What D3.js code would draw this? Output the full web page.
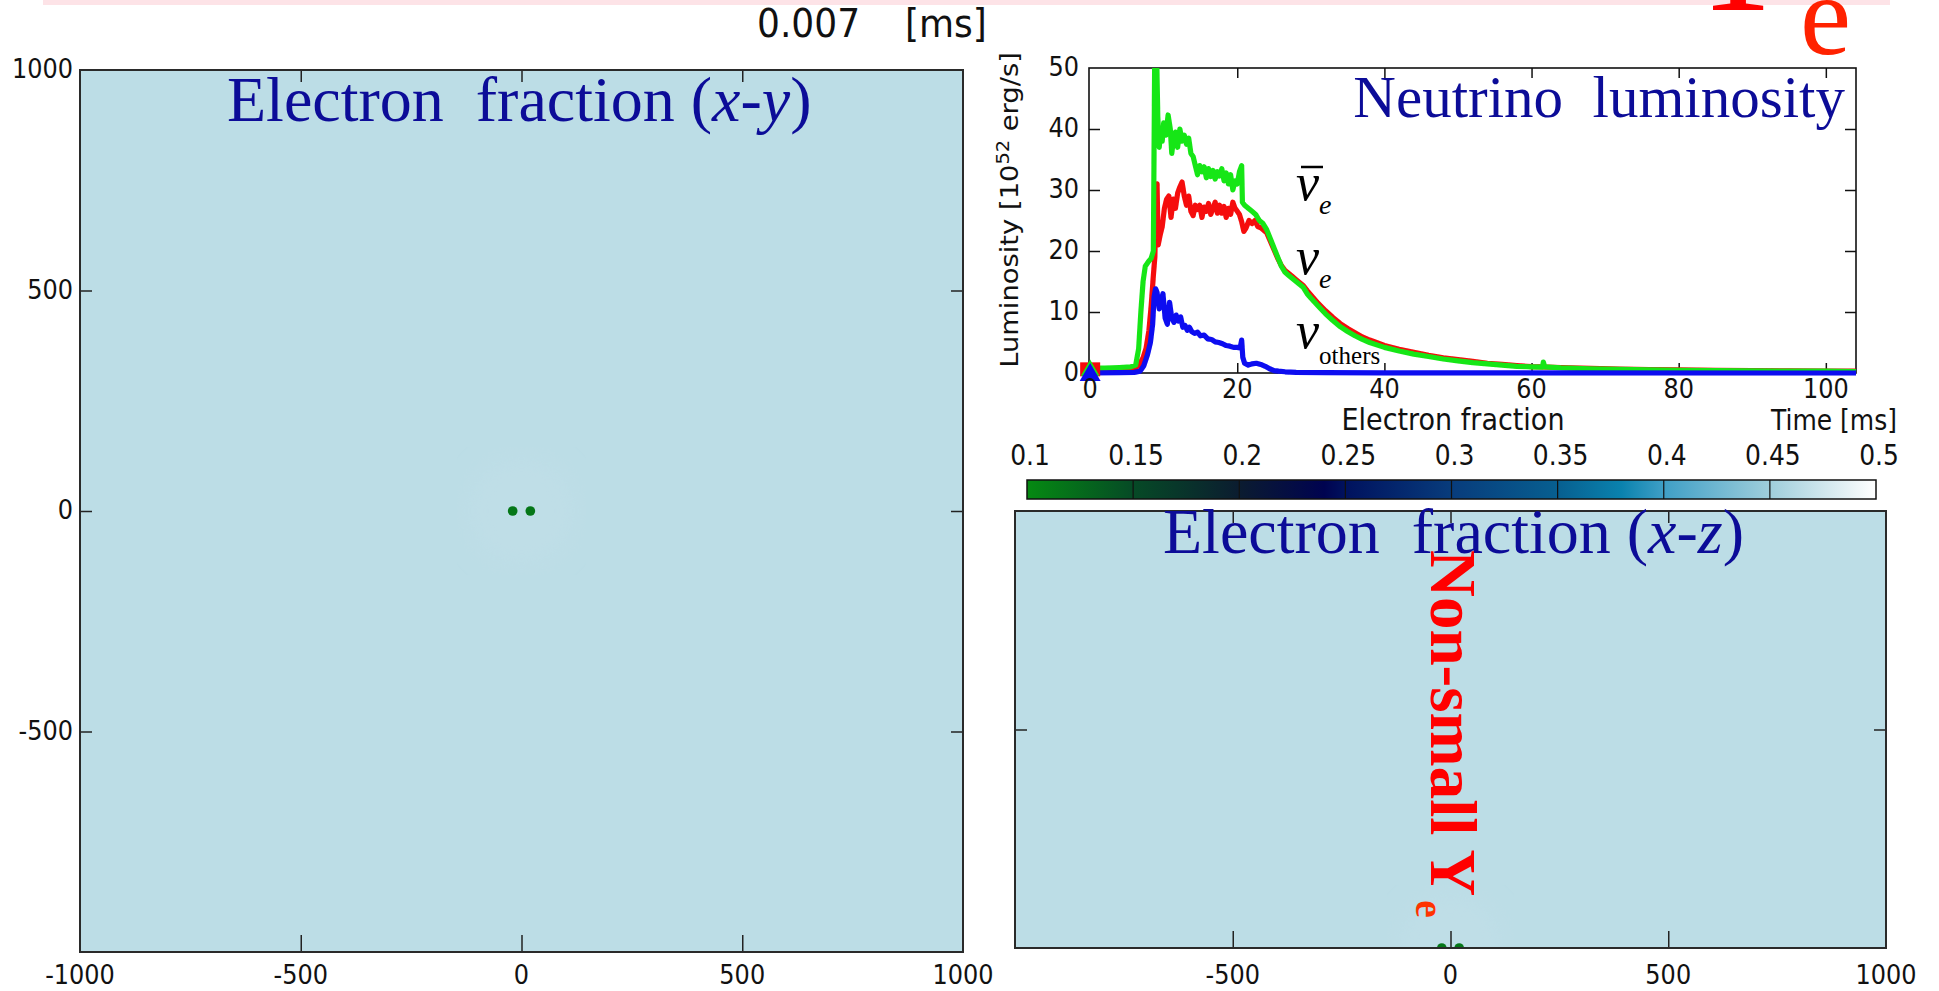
<!DOCTYPE html>
<html>
<head>
<meta charset="utf-8">
<script src="https://cdn.jsdelivr.net/npm/d3@7"></script>
<style>
  html, body { margin: 0; padding: 0; background: #ffffff; }
  svg { display: block; }
  .sans { font-family: "DejaVu Sans", sans-serif; fill: #111; }
  .serif { font-family: "Liberation Serif", "Times New Roman", serif; }
</style>
</head>
<body>
<svg id="chart" width="1939" height="991"></svg>
<script>
// ---------- data ----------
const snapshotTime = "0.007";
const currentTimeMs = 0.007;

// Electron-fraction colour map (value -> colour)
const yeStops = [0.10, 0.15, 0.20, 0.24, 0.25, 0.30, 0.35, 0.38, 0.40, 0.45, 0.50];
const yeColors = ["#058a12", "#064a26", "#0b1c30", "#000350", "#00125e", "#083c7c",
                  "#075f90", "#0a82ae", "#3f9fc6", "#9fcedb", "#ffffff"];
const colorbarTicks = [0.1, 0.15, 0.2, 0.25, 0.3, 0.35, 0.4, 0.45, 0.5];

// Matter state at this snapshot
const ambientYe = 0.465;
const haloYe = 0.4665;
const haloRadiusKm = 120;
const starX = [-20, 20];      // km, two stars on the x axis
const starYe = [0.115, 0.115];
const starRadiusKm = 11;

// Slice axes
const planeTicks = [-1000, -500, 0, 500, 1000];
const planeInnerTicks = [-500, 0, 500];
const xyYLabels = [1000, 500, 0, -500];
const xzXLabels = [-500, 0, 500, 1000];
const xzZTicks = [500];

// Neutrino luminosity [1e52 erg/s] vs time [ms]
const lumTimeTicks = [0, 20, 40, 60, 80, 100];
const lumTicks = [0, 10, 20, 30, 40, 50];

const lumNuebar = [[0,0.8],[2,0.8],[4,0.9],[5.5,1.0],[6.2,1.3],[6.6,4],[6.9,10],[7.2,15],[7.5,17.5],[7.9,18.2],
  [8.3,18.8],[8.6,20],[8.7,38],[8.8,55],[9.0,55],[9.2,42],[9.4,37],[9.6,40],[9.8,38],[10.0,41],[10.3,39],
  [10.6,42.3],[10.9,40],[11.1,36],[11.3,38],[11.6,39.5],[11.9,37],[12.2,40],[12.5,38],[12.8,39],[13.1,37.5],
  [13.4,38.5],[13.7,36],[14.0,35.5],[14.3,34],[14.6,32.5],[14.9,34],[15.2,33],[15.5,33.8],[15.8,32],[16.1,33.5],
  [16.4,32.2],[16.7,33.2],[17.0,31.8],[17.3,33],[17.6,32.3],[17.9,33.5],[18.2,31.5],[18.5,32.8],[18.8,31],
  [19.1,32.5],[19.4,30],[19.7,31.5],[20.0,31],[20.3,33],[20.6,34],[20.7,28],[21.0,27.5],[21.5,27],[22.0,26.5],
  [22.5,26],[23.0,25],[23.5,24.5],[24.0,23.5],[24.5,22],[25.0,20.5],[25.5,19],[26.0,17.5],[26.5,16.5],[27.0,16],
  [27.5,15.5],[28.0,15],[28.5,14.5],[29.0,14],[29.5,13],[30,12.3],[31,11],[32,9.7],[33,8.6],[34,7.6],[35,6.8],
  [36,6.1],[37,5.5],[38,5],[40,4.2],[42,3.6],[44,3.1],[46,2.7],[48,2.3],[50,2.0],[52,1.7],[54,1.5],[56,1.3],
  [58,1.1],[60,1.0],[61.5,0.95],[61.6,1.8],[61.8,1.0],[64,0.85],[68,0.7],[72,0.6],[76,0.5],[80,0.45],[85,0.4],
  [90,0.35],[95,0.3],[100,0.3],[104.1,0.25]];

const lumNue = [[0,0.6],[3,0.6],[6,0.7],[6.6,1.2],[7.2,2.5],[7.6,4],[8.0,7],[8.3,11],[8.6,16],[8.8,19],[8.95,29],
  [9.1,31],[9.25,21],[9.5,22.5],[9.8,24],[10.1,27],[10.4,28.5],[10.7,29],[11.0,25.5],[11.3,28.5],[11.6,27],
  [11.9,29.5],[12.2,30.5],[12.5,31.3],[12.8,29],[13.1,27.5],[13.4,29],[13.7,26.5],[14.0,25.8],[14.3,27.5],
  [14.6,26.8],[14.9,27.5],[15.2,25.5],[15.5,27.2],[15.8,26.5],[16.1,27.8],[16.4,26],[16.7,27],[17.0,28],
  [17.3,26.2],[17.6,27.5],[17.9,26.2],[18.2,27.3],[18.5,25.5],[18.8,27],[19.1,26],[19.4,28],[19.7,27],[20.0,26.5],
  [20.3,26],[20.6,24.8],[20.9,23.2],[21.2,23.8],[21.6,25],[22.0,24.5],[22.4,25],[22.8,24],[23.2,23.8],[23.6,23.4],
  [24.0,23],[24.5,21.6],[25.0,20.2],[25.5,18.8],[26.0,17.6],[26.5,16.8],[27.0,16.3],[27.5,15.8],[28.0,15.3],
  [28.5,14.8],[29.0,14.3],[29.5,13.5],[30,12.8],[31,11.4],[32,10.2],[33,9.1],[34,8.1],[35,7.3],[36,6.6],[37,5.9],
  [38,5.4],[40,4.5],[42,3.9],[44,3.4],[46,2.9],[48,2.5],[50,2.2],[52,1.9],[54,1.6],[56,1.4],[58,1.2],[60,1.05],
  [64,0.9],[68,0.75],[72,0.65],[76,0.55],[80,0.5],[85,0.45],[90,0.4],[95,0.35],[100,0.3],[104.1,0.3]];

const lumOthers = [[0,0],[4,0.05],[6,0.1],[6.8,0.3],[7.3,1.2],[7.8,3],[8.2,5],[8.5,8],[8.7,12.5],[8.9,13.8],
  [9.1,13.2],[9.4,10.5],[9.6,11.5],[9.9,13],[10.2,9],[10.5,8],[10.8,11.6],[11.1,9],[11.4,8.3],[11.7,9.5],[12.0,8.5],
  [12.3,9.2],[12.6,7.5],[12.9,7.8],[13.2,7],[13.5,7.5],[13.8,6.8],[14.2,6.5],[14.6,6.7],[15.0,6.1],[15.5,6.2],
  [16.0,5.6],[16.5,5.5],[17.0,5.1],[17.5,5.0],[18.0,4.8],[18.5,4.5],[19.0,4.4],[19.5,4.2],[20.0,4.2],[20.4,4.1],
  [20.6,5.4],[20.75,2.6],[21.0,1.6],[21.5,1.3],[22,1.5],[22.6,1.6],[23.2,1.4],[23.8,1.1],[24.4,0.7],[25,0.4],
  [25.6,0.3],[26.5,0.2],[28,0.1],[32,0.05],[40,0.02],[104.1,0]];

const seriesColors = { nue: "#f50a0a", nuebar: "#19e619", others: "#0a0af0" };

// ---------- helpers ----------
const svg = d3.select("#chart");
const SY = 1.1; // vertical stretch of the sans labels

function sans(parent, x, y, str, size, anchor) {
  const g = parent.append("g").attr("transform", `translate(${x},${y}) scale(1,${SY})`);
  const t = g.append("text").attr("class", "sans")
    .attr("font-size", size).attr("text-anchor", anchor || "start")
    .style("white-space", "pre").text(str);
  return t;
}

const yeColor = d3.scaleLinear().domain(yeStops).range(yeColors).interpolate(d3.interpolateRgb).clamp(true);

const defs = svg.append("defs");
defs.append("filter").attr("id", "soft").append("feGaussianBlur").attr("stdDeviation", 12);
defs.append("filter").attr("id", "lineSoft").append("feGaussianBlur").attr("stdDeviation", 0.6);

// ---------- top banner ----------
svg.append("rect").attr("x", 43).attr("y", 0).attr("width", 1847).attr("height", 5).attr("fill", "#fde3e7");

sans(svg, 757, 37, snapshotTime, 36);
sans(svg, 905, 37, "[ms]", 36);

// ---------- x-y slice ----------
const xL = d3.scaleLinear().domain([-1000, 1000]).range([80, 963]);
const yL = d3.scaleLinear().domain([-1000, 1000]).range([952, 70]);

const gXY = svg.append("g");
defs.append("clipPath").attr("id", "clipXY").append("rect")
  .attr("x", xL(-1000)).attr("y", yL(1000)).attr("width", xL(1000) - xL(-1000)).attr("height", yL(-1000) - yL(1000));
const xyBody = gXY.append("g").attr("clip-path", "url(#clipXY)");
xyBody.append("rect").attr("x", xL(-1000)).attr("y", yL(1000))
  .attr("width", xL(1000) - xL(-1000)).attr("height", yL(-1000) - yL(1000)).attr("fill", yeColor(ambientYe));
xyBody.append("circle").attr("cx", xL(0)).attr("cy", yL(0)).attr("r", xL(haloRadiusKm) - xL(0))
  .attr("fill", yeColor(haloYe)).attr("filter", "url(#soft)");
xyBody.selectAll("circle.star").data(starX).join("circle").attr("class", "star")
  .attr("cx", d => xL(d)).attr("cy", yL(0)).attr("r", xL(starRadiusKm) - xL(0))
  .attr("fill", (d, i) => yeColor(starYe[i]));

gXY.append("g").attr("transform", `translate(0,${yL(-1000)})`)
  .call(d3.axisBottom(xL).tickValues(planeInnerTicks).tickSize(-17).tickFormat(""));
gXY.append("g").attr("transform", `translate(0,${yL(1000)})`)
  .call(d3.axisTop(xL).tickValues(planeInnerTicks).tickSize(-12).tickFormat(""));
gXY.append("g").attr("transform", `translate(${xL(-1000)},0)`)
  .call(d3.axisLeft(yL).tickValues(planeInnerTicks).tickSize(-12).tickFormat(""));
gXY.append("g").attr("transform", `translate(${xL(1000)},0)`)
  .call(d3.axisRight(yL).tickValues(planeInnerTicks).tickSize(-12).tickFormat(""));
gXY.selectAll(".domain").remove();
gXY.selectAll(".tick line").attr("stroke", "#222").attr("stroke-width", 1.5);
gXY.append("rect").attr("x", xL(-1000)).attr("y", yL(1000))
  .attr("width", xL(1000) - xL(-1000)).attr("height", yL(-1000) - yL(1000))
  .attr("fill", "none").attr("stroke", "#2a2a2a").attr("stroke-width", 2);

planeTicks.forEach(v => sans(gXY, xL(v), 984, String(v), 24, "middle"));
xyYLabels.forEach(v => sans(gXY, 73, yL(v) + 8, String(v), 24, "end"));

const tXY = gXY.append("text").attr("class", "serif").attr("x", 227).attr("y", 121)
  .attr("font-size", 64).attr("fill", "#0c0c98").style("white-space", "pre");
tXY.append("tspan").text("Electron  fraction (");
tXY.append("tspan").attr("font-style", "italic").text("x");
tXY.append("tspan").text("-");
tXY.append("tspan").attr("font-style", "italic").text("y");
tXY.append("tspan").text(")");

// ---------- x-z slice ----------
const xZ = d3.scaleLinear().domain([-1000, 1000]).range([1015, 1886]);
const zZ = d3.scaleLinear().domain([0, 1000]).range([948, 511]);

const gXZ = svg.append("g");
defs.append("clipPath").attr("id", "clipXZ").append("rect")
  .attr("x", xZ(-1000)).attr("y", zZ(1000)).attr("width", xZ(1000) - xZ(-1000)).attr("height", zZ(0) - zZ(1000));
const xzBody = gXZ.append("g").attr("clip-path", "url(#clipXZ)");
xzBody.append("rect").attr("x", xZ(-1000)).attr("y", zZ(1000))
  .attr("width", xZ(1000) - xZ(-1000)).attr("height", zZ(0) - zZ(1000)).attr("fill", yeColor(ambientYe));
xzBody.append("circle").attr("cx", xZ(0)).attr("cy", zZ(0)).attr("r", xZ(haloRadiusKm) - xZ(0))
  .attr("fill", yeColor(haloYe)).attr("filter", "url(#soft)");
xzBody.selectAll("circle.star").data(starX).join("circle").attr("class", "star")
  .attr("cx", d => xZ(d)).attr("cy", zZ(0)).attr("r", xZ(starRadiusKm) - xZ(0))
  .attr("fill", (d, i) => yeColor(starYe[i]));

gXZ.append("g").attr("transform", `translate(0,${zZ(0)})`)
  .call(d3.axisBottom(xZ).tickValues(planeInnerTicks).tickSize(-17).tickFormat(""));
gXZ.append("g").attr("transform", `translate(0,${zZ(1000)})`)
  .call(d3.axisTop(xZ).tickValues(planeInnerTicks).tickSize(-12).tickFormat(""));
gXZ.append("g").attr("transform", `translate(${xZ(-1000)},0)`)
  .call(d3.axisLeft(zZ).tickValues(xzZTicks).tickSize(-12).tickFormat(""));
gXZ.append("g").attr("transform", `translate(${xZ(1000)},0)`)
  .call(d3.axisRight(zZ).tickValues(xzZTicks).tickSize(-12).tickFormat(""));
gXZ.selectAll(".domain").remove();
gXZ.selectAll(".tick line").attr("stroke", "#222").attr("stroke-width", 1.5);
gXZ.append("rect").attr("x", xZ(-1000)).attr("y", zZ(1000))
  .attr("width", xZ(1000) - xZ(-1000)).attr("height", zZ(0) - zZ(1000))
  .attr("fill", "none").attr("stroke", "#2a2a2a").attr("stroke-width", 2);

xzXLabels.forEach(v => sans(gXZ, xZ(v), 984, String(v), 24, "middle"));

const tXZ = gXZ.append("text").attr("class", "serif").attr("x", 1163).attr("y", 553)
  .attr("font-size", 64).attr("fill", "#0c0c98").style("white-space", "pre");
tXZ.append("tspan").text("Electron  fraction (");
tXZ.append("tspan").attr("font-style", "italic").text("x");
tXZ.append("tspan").text("-");
tXZ.append("tspan").attr("font-style", "italic").text("z");
tXZ.append("tspan").text(")");

// ---------- colour bar ----------
const xC = d3.scaleLinear().domain([0.1, 0.5]).range([1027, 1876]);
const grad = defs.append("linearGradient").attr("id", "yeGrad").attr("x1", "0%").attr("x2", "100%");
yeStops.forEach((s, i) => grad.append("stop")
  .attr("offset", ((s - 0.1) / 0.4 * 100) + "%").attr("stop-color", yeColors[i]));
const gC = svg.append("g");
gC.append("rect").attr("x", xC(0.1)).attr("y", 480).attr("width", xC(0.5) - xC(0.1)).attr("height", 19)
  .attr("fill", "url(#yeGrad)");
gC.selectAll("line.div").data(colorbarTicks.slice(1, -1)).join("line").attr("class", "div")
  .attr("x1", d => xC(d)).attr("x2", d => xC(d)).attr("y1", 480).attr("y2", 499)
  .attr("stroke", "#111").attr("stroke-width", 1.2);
gC.append("rect").attr("x", xC(0.1)).attr("y", 480).attr("width", xC(0.5) - xC(0.1)).attr("height", 19)
  .attr("fill", "none").attr("stroke", "#111").attr("stroke-width", 1.5);
colorbarTicks.forEach(v => sans(gC, xC(v) + 3, 465, String(v), 25, "middle"));
sans(gC, 1453, 430, "Electron fraction", 27, "middle");

// ---------- neutrino luminosity ----------
const xT = d3.scaleLinear().domain([-0.15, 104.1]).range([1089, 1856]);
const yLum = d3.scaleLinear().domain([0, 50]).range([373, 68]);
const gLum = svg.append("g");

defs.append("clipPath").attr("id", "clipLum").append("rect")
  .attr("x", xT.range()[0] - 10).attr("y", yLum(50)).attr("width", xT.range()[1] - xT.range()[0] + 10)
  .attr("height", yLum(0) - yLum(50) + 8);

gLum.append("g").attr("transform", `translate(0,${yLum(0)})`)
  .call(d3.axisBottom(xT).tickValues(lumTimeTicks.slice(1)).tickSize(-10).tickFormat(""));
gLum.append("g").attr("transform", `translate(0,${yLum(50)})`)
  .call(d3.axisTop(xT).tickValues(lumTimeTicks.slice(1)).tickSize(-10).tickFormat(""));
gLum.append("g").attr("transform", `translate(${xT.range()[0]},0)`)
  .call(d3.axisLeft(yLum).tickValues(lumTicks.slice(1, -1)).tickSize(-11).tickFormat(""));
gLum.append("g").attr("transform", `translate(${xT.range()[1]},0)`)
  .call(d3.axisRight(yLum).tickValues(lumTicks.slice(1, -1)).tickSize(-11).tickFormat(""));
gLum.selectAll(".domain").remove();
gLum.selectAll(".tick line").attr("stroke", "#111").attr("stroke-width", 1.5);
gLum.append("rect").attr("x", xT.range()[0]).attr("y", yLum(50))
  .attr("width", xT.range()[1] - xT.range()[0]).attr("height", yLum(0) - yLum(50))
  .attr("fill", "none").attr("stroke", "#111").attr("stroke-width", 1.6);

const line = d3.line().x(d => xT(d[0])).y(d => yLum(d[1]));
const curves = gLum.append("g").attr("clip-path", "url(#clipLum)").attr("filter", "url(#lineSoft)");
[[lumNue, seriesColors.nue], [lumNuebar, seriesColors.nuebar], [lumOthers, seriesColors.others]]
  .forEach(([data, col]) => curves.append("path").datum(data).attr("d", line)
    .attr("fill", "none").attr("stroke", col).attr("stroke-width", 5.2).attr("stroke-linejoin", "round"));

// markers at the snapshot time
const xNow = xT(currentTimeMs);
gLum.append("rect").attr("x", xNow - 10).attr("y", yLum(0.6) - 7).attr("width", 20).attr("height", 14)
  .attr("fill", seriesColors.nue);
gLum.append("path").attr("d", d3.symbol(d3.symbolTriangle, 150)())
  .attr("transform", `translate(${xNow},${yLum(0.6) + 1})`).attr("fill", seriesColors.nuebar);
gLum.append("path").attr("d", d3.symbol(d3.symbolTriangle, 190)())
  .attr("transform", `translate(${xNow},${yLum(0) + 2})`).attr("fill", seriesColors.others);

lumTicks.forEach(v => sans(gLum, 1079, yLum(v) + 8, String(v), 24, "end"));
lumTimeTicks.forEach(v => sans(gLum, xT(v), 398, String(v), 24, "middle"));
sans(gLum, 1834, 430, "Time [ms]", 25, "middle");

const yLab = gLum.append("text").attr("class", "sans").attr("font-size", 24)
  .attr("text-anchor", "middle").attr("transform", `translate(1018,210) rotate(-90) scale(1.14,1)`);
yLab.append("tspan").text("Luminosity [10");
yLab.append("tspan").attr("font-size", 17).attr("dy", -9).text("52");
yLab.append("tspan").attr("dy", 9).text(" erg/s]");

gLum.append("text").attr("class", "serif").attr("x", 1845).attr("y", 117)
  .attr("font-size", 59).attr("fill", "#0c0c98").attr("text-anchor", "end").style("white-space", "pre")
  .text("Neutrino  luminosity");

// flavour labels
function nuLabel(x, y, sub, subItalic, bar) {
  const t = gLum.append("text").attr("class", "serif").attr("x", x).attr("y", y).attr("fill", "#000");
  t.append("tspan").attr("font-size", 52).attr("font-style", "italic").text("ν");
  t.append("tspan").attr("font-size", subItalic ? 28 : 25).attr("font-style", subItalic ? "italic" : "normal")
    .attr("dy", subItalic ? 14 : 16).text(sub);
  if (bar) {
    gLum.append("line").attr("x1", x + 5).attr("x2", x + 27).attr("y1", y - 33).attr("y2", y - 33)
      .attr("stroke", "#000").attr("stroke-width", 2.5);
  }
}
nuLabel(1296, 200, "e", true, true);
nuLabel(1296, 274, "e", true, false);
nuLabel(1296, 348, "others", false, false);

// ---------- overlaid red labels ----------
const big = svg.append("text").attr("class", "serif").attr("x", 1678).attr("y", 10).attr("fill", "#ff0000");
big.append("tspan").attr("font-size", 166).text("Y");
big.append("tspan").attr("font-size", 115).attr("fill", "#ff2200").attr("dx", 2).attr("dy", 44).text("e");

const side = svg.append("text").attr("class", "serif").attr("font-weight", "bold").attr("fill", "#ff0000")
  .attr("transform", "translate(1431,550) rotate(90)");
side.append("tspan").attr("font-size", 65).text("Non-small Y");
side.append("tspan").attr("font-size", 40).attr("fill", "#ff3300").attr("dx", 4).attr("dy", 15).text("e");
</script>
</body>
</html>
